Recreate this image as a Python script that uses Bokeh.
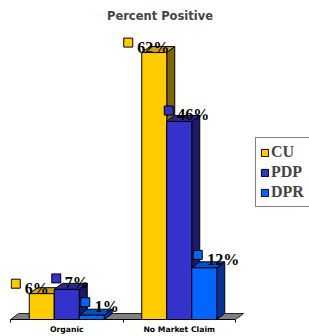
from bokeh.plotting import figure
from bokeh.models import FixedTicker, Legend, LegendItem, Range1d
from bokeh.embed import file_html
from bokeh.resources import INLINE

categories = ["Organic", "No Market Claim"]
series_names = ["CU", "PDP", "DPR"]
cu = [6, 62]
pdp = [7, 46]
dpr = [1, 12]
values = [cu, pdp, dpr]

front_colors = ["#FFCC00", "#3333CC", "#0066FF"]
top_colors = ["#CCA300", "#29298F", "#0052CC"]
side_colors = ["#806600", "#1A1A66", "#003399"]
# label offsets (screen px): marker x, text x, vertical lift
label_style = {"CU": (-26, -17, 10), "PDP": (-10.5, -2, 11), "DPR": (-6.5, 3, 13)}

W, H = 309, 336
B_LEFT, B_TOP, B_BOTTOM = 10, 24, 16
px_per_unit = 112.5
px_per_pct = 4.32
frame_w = W - B_LEFT
frame_h = H - B_TOP - B_BOTTOM

p = figure(width=W, height=H, output_backend="svg", toolbar_location=None,
           x_range=Range1d(0, frame_w / px_per_unit), y_range=Range1d(0, frame_h / px_per_pct),
           y_axis_location=None, min_border_left=B_LEFT, min_border_right=0,
           min_border_top=B_TOP, min_border_bottom=B_BOTTOM, title="Percent Positive")
p.title.align = "center"
p.title.text_font = "DejaVu Sans"
p.title.text_font_size = "11.5px"
p.title.text_font_style = "bold"
p.title.standoff = 3
p.xgrid.visible = False
p.ygrid.visible = False
p.outline_line_color = None

ddx = 8 / px_per_unit
ddy = 6 / px_per_pct
n_cat = len(categories)
bw = (2 / 3) / len(series_names)

# floor
p.patch(x=[0, n_cat, n_cat + ddx, ddx], y=[0, 0, ddy, ddy], fill_color="#808080",
        line_color="#222222", line_width=1)

renderers = []
for si, name in enumerate(series_names):
    vals = values[si]
    xs = [ci + 0.5 + (si - 1) * bw for ci in range(n_cat)]
    side_x = [[x + bw / 2, x + bw / 2 + ddx, x + bw / 2 + ddx, x + bw / 2] for x in xs]
    side_y = [[0, ddy, v + ddy, v] for v in vals]
    top_x = [[x - bw / 2, x + bw / 2, x + bw / 2 + ddx, x - bw / 2 + ddx] for x in xs]
    top_y = [[v, v, v + ddy, v + ddy] for v in vals]
    p.patches(xs=side_x, ys=side_y, fill_color=side_colors[si], line_color="black", line_width=1)
    p.patches(xs=top_x, ys=top_y, fill_color=top_colors[si], line_color="black", line_width=1)
    r = p.vbar(x=xs, width=bw, top=vals, bottom=0, fill_color=front_colors[si],
               line_color="black", line_width=1)
    renderers.append(r)

for si, name in enumerate(series_names):
    vals = values[si]
    xs = [ci + 0.5 + (si - 1) * bw for ci in range(n_cat)]
    mx, tx, lift = label_style[name]
    p.scatter(x=[x + mx / px_per_unit for x in xs], y=[v + lift / px_per_pct for v in vals],
              marker="square", size=9, fill_color=front_colors[si],
              line_color="black", line_width=1)
    p.text(x=xs, y=vals, text=[f"{v}%" for v in vals], x_offset=tx, y_offset=-lift + 4.5,
           text_font="Liberation Serif", text_font_style="bold", text_font_size="16px",
           text_baseline="alphabetic", text_align="left", text_color="black")

ax = p.xaxis[0]
ax.ticker = FixedTicker(ticks=[c + 0.5 for c in range(n_cat)], minor_ticks=list(range(n_cat + 1)))
ax.major_label_overrides = {c + 0.5: categories[c] for c in range(n_cat)}
ax.bounds = (0, n_cat)
ax.axis_line_color = "black"
ax.major_tick_out = 0
ax.major_tick_in = 0
ax.minor_tick_out = 3
ax.minor_tick_in = 0
ax.minor_tick_line_color = "black"
ax.major_label_standoff = 2
ax.major_label_text_font = "DejaVu Sans"
ax.major_label_text_font_style = "bold"
ax.major_label_text_font_size = "7.7px"
ax.major_label_text_color = "black"

legend = Legend(items=[LegendItem(label=n, renderers=[renderers[i]]) for i, n in enumerate(series_names)],
                location=(245, 112), padding=4, spacing=0, margin=0,
                label_height=20, glyph_height=9, glyph_width=9, label_standoff=2,
                label_width=60,
                label_text_font="Liberation Serif", label_text_font_style="bold",
                label_text_font_size="16px", border_line_color="black", border_line_width=1,
                background_fill_color="white", background_fill_alpha=1)
p.add_layout(legend, "center")

open("out.html", "w").write(file_html(p, INLINE))
